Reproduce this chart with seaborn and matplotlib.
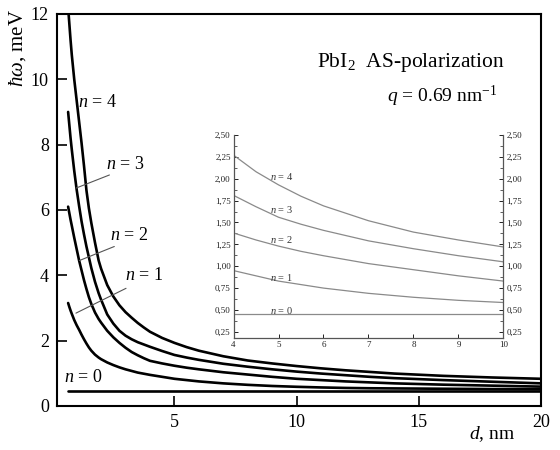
import numpy as np
import pandas as pd
import matplotlib
matplotlib.use("Agg")
import matplotlib.pyplot as plt
import seaborn as sns
from matplotlib.ticker import FixedLocator, FuncFormatter

# ---- data ----
d = [0.65, 0.7, 0.75, 0.8, 0.9, 1.0, 1.1, 1.2, 1.3, 1.4, 1.5, 1.6, 1.75, 1.9, 2.0, 2.25, 2.5, 2.75,
     3.0, 3.25, 3.5, 3.75, 4, 4.5, 5, 5.5, 6, 7, 8, 9, 10, 11, 12, 13, 14, 16, 18, 20]
n0 = [0.45] * len(d)
n1 = [3.15, 3.03, 2.92, 2.82, 2.63, 2.47, 2.33, 2.18, 2.04, 1.91, 1.79, 1.69, 1.57, 1.48, 1.43, 1.33, 1.25, 1.18,
      1.12, 1.07, 1.02, 0.985, 0.95, 0.89, 0.83, 0.79, 0.75, 0.69, 0.645, 0.61, 0.585, 0.565, 0.55, 0.54, 0.535, 0.525, 0.515, 0.51]
n2 = [6.10, 5.90, 5.70, 5.52, 5.15, 4.80, 4.45, 4.15, 3.85, 3.58, 3.33, 3.12, 2.86, 2.66, 2.55, 2.30, 2.10, 1.93,
      1.78, 1.65, 1.55, 1.46, 1.38, 1.30, 1.23, 1.17, 1.12, 1.03, 0.96, 0.89, 0.83, 0.79, 0.75, 0.72, 0.69, 0.65, 0.62, 0.59]
n3 = [9.00, 8.60, 8.20, 7.85, 7.20, 6.62, 6.12, 5.65, 5.25, 4.88, 4.55, 4.22, 3.80, 3.45, 3.25, 2.80, 2.52, 2.30,
      2.15, 2.04, 1.95, 1.88, 1.81, 1.68, 1.56, 1.48, 1.41, 1.29, 1.20, 1.12, 1.05, 0.99, 0.94, 0.89, 0.85, 0.79, 0.74, 0.69]
n4 = [12.2, 11.7, 11.2, 10.75, 10.0, 9.35, 8.70, 8.05, 7.35, 6.60, 6.05, 5.60, 5.00, 4.45, 4.20, 3.70, 3.35, 3.08,
      2.87, 2.70, 2.54, 2.40, 2.27, 2.08, 1.93, 1.80, 1.69, 1.52, 1.39, 1.30, 1.22, 1.15, 1.09, 1.04, 0.99, 0.92, 0.87, 0.83]
series = {"n = 0": n0, "n = 1": n1, "n = 2": n2, "n = 3": n3, "n = 4": n4}

main_yticks = [0, 2, 4, 6, 8, 10, 12]
main_xticks = [5, 10, 15, 20]
inset_xticks = [4, 5, 6, 7, 8, 9, 10]
inset_yticks = [0.25, 0.50, 0.75, 1.00, 1.25, 1.50, 1.75, 2.00, 2.25, 2.50]
inset_yminor = [0.375, 0.625, 0.875, 1.125, 1.375, 1.625, 1.875, 2.125, 2.375]

rows = []
for name, vals in series.items():
    for x, y in zip(d, vals):
        rows.append({"d": x, "E": y, "n": name})
df = pd.DataFrame(rows)

sns.set_style("ticks")
plt.rcParams["font.family"] = ["Liberation Serif", "DejaVu Serif"]
plt.rcParams["mathtext.fontset"] = "custom"
plt.rcParams["mathtext.rm"] = "Liberation Serif"
plt.rcParams["mathtext.it"] = "Liberation Serif:italic"
plt.rcParams["mathtext.bf"] = "Liberation Serif:bold"
plt.rcParams["text.color"] = "black"
plt.rcParams["xtick.color"] = "black"
plt.rcParams["ytick.color"] = "black"
plt.rcParams["axes.labelcolor"] = "black"

fig = plt.figure(figsize=(5.6, 4.5), dpi=100)
ax = fig.add_axes([0.102, 0.098, 0.864, 0.871])
black = {k: "black" for k in series}
sns.lineplot(data=df, x="d", y="E", hue="n", palette=black, lw=1.9, ax=ax, legend=False)
ax.set_xlim(0.2, 20)
ax.set_ylim(0, 12)
ax.set_xticks(main_xticks)
ax.set_yticks(main_yticks)
ax.tick_params(direction="in", length=7, width=1.2, labelsize=13, top=False, right=False, pad=6,
               colors="black")
for s in ax.spines.values():
    s.set_linewidth(1.5)
    s.set_color("black")
ax.set_xlabel("")
ax.set_ylabel("")

# axis labels
fig.text(0.032, 0.98, r"$\hbar\omega$, meV", rotation=90, ha="center", va="top", fontsize=15)
fig.text(0.878, 0.035, r"$d$, nm", ha="center", va="center", fontsize=14)

# title texts
ax.text(0.926, 0.877, r"PbI$_2$  AS-polarization", transform=ax.transAxes, ha="right", va="center", fontsize=15.5)
ax.text(0.909, 0.79, r"$q$ = 0.69 nm$^{-1}$", transform=ax.transAxes, ha="right", va="center", fontsize=14)

# curve labels + leader lines
lab_kw = dict(ha="center", va="center", fontsize=13)
ax.text(1.84, 9.3, r"$n$ = 4", **lab_kw)
ax.text(2.99, 7.38, r"$n$ = 3", **lab_kw)
ax.text(3.16, 5.23, r"$n$ = 2", **lab_kw)
ax.text(3.77, 3.98, r"$n$ = 1", **lab_kw)
ax.text(1.27, 0.86, r"$n$ = 0", **lab_kw)
lead = dict(color="#555555", lw=0.8)
ax.plot([2.34, 0.98], [7.07, 6.67], **lead)
ax.plot([2.54, 1.11], [4.88, 4.45], **lead)
ax.plot([3.02, 0.97], [3.60, 2.84], **lead)

# ---- inset ----
ins = fig.add_axes([0.417, 0.249, 0.482, 0.451])
ins.patch.set_alpha(0)
ins_df = df[(df["d"] >= 4) & (df["d"] <= 10)]
gray = {k: "#8a8a8a" for k in series}
sns.lineplot(data=ins_df, x="d", y="E", hue="n", palette=gray, lw=0.9, ax=ins, legend=False)
ins.set_xlim(4, 10)
ins.set_ylim(0.18, 2.5)
ins.set_xticks(inset_xticks)
ins.set_yticks(inset_yticks)
ins.yaxis.set_minor_locator(FixedLocator(inset_yminor))
ins.yaxis.set_major_formatter(FuncFormatter(lambda v, p: f"{v:.2f}".replace(".", ",")))
ins.tick_params(direction="in", length=3, width=0.7, labelsize=6.5, pad=2, colors="#222222",
                left=True, right=True, labelleft=True, labelright=True, top=False)
ins.tick_params(which="minor", direction="in", length=2, width=0.6, left=True, right=True, colors="#444444")
ins.tick_params(axis="x", pad=2)
ins.spines["top"].set_visible(False)
for k in ["left", "right", "bottom"]:
    ins.spines[k].set_linewidth(0.9)
    ins.spines[k].set_color("#555555")
ins.set_xlabel("")
ins.set_ylabel("")
ikw = dict(ha="center", va="center", fontsize=7.5, color="#333333")
ins.text(5.07, 2.03, r"$n$ = 4", **ikw)
ins.text(5.07, 1.65, r"$n$ = 3", **ikw)
ins.text(5.07, 1.30, r"$n$ = 2", **ikw)
ins.text(5.07, 0.875, r"$n$ = 1", **ikw)
ins.text(5.07, 0.49, r"$n$ = 0", **ikw)

fig.savefig("out.png", dpi=100)
